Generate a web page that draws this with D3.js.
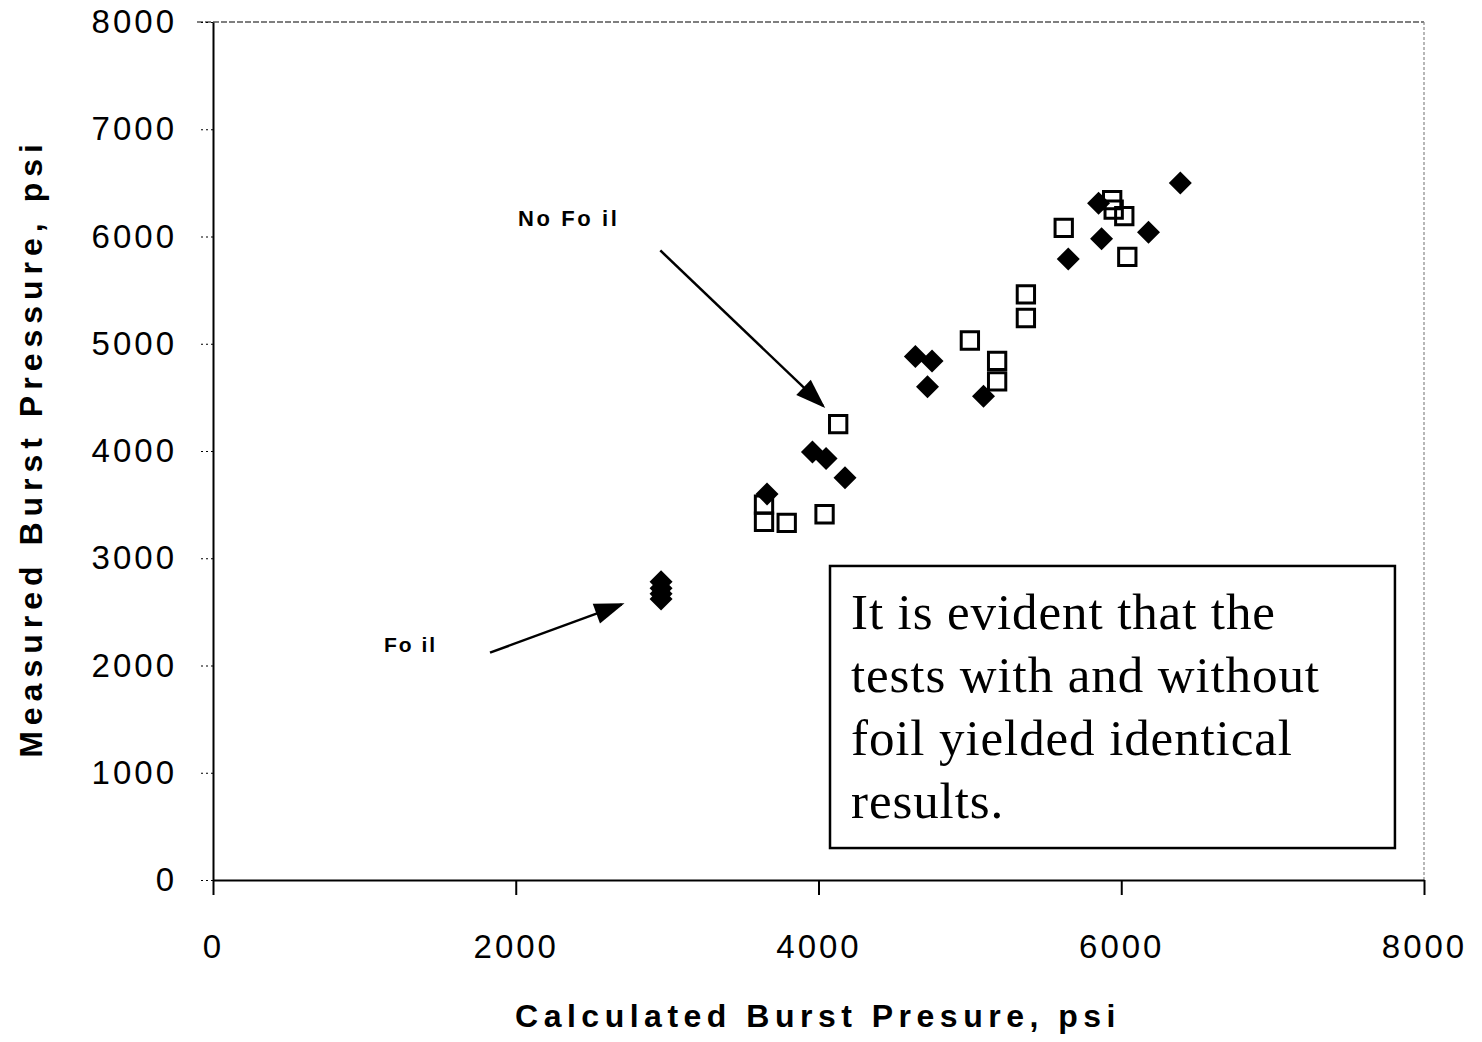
<!DOCTYPE html>
<html>
<head>
<meta charset="utf-8">
<script src="https://cdn.jsdelivr.net/npm/d3@7"></script>
<style>
  body { margin: 0; background: #fff; }
  svg { display: block; }
</style>
</head>
<body>
<svg></svg>
<script>
// data
let foilX = [2960, 2960, 2960, 2960, 3660, 3960, 4050, 4175, 4640, 4750, 4720, 5090, 5650, 5870, 5850, 6180, 6390];
let foilY = [2780, 2720, 2670, 2620, 3600, 3990, 3930, 3750, 4880, 4840, 4600, 4510, 5790, 5980, 6310, 6040, 6500];

let noFoilX = [4130, 3640, 3640, 3790, 4040, 5000, 5180, 5180, 5370, 5370, 5620, 5940, 5950, 6020, 6040];
let noFoilY = [4250, 3500, 3340, 3330, 3410, 5030, 4840, 4650, 5460, 5240, 6080, 6340, 6250, 6190, 5810];

let xTicks = [0, 2000, 4000, 6000, 8000];
let yTicks = [0, 1000, 2000, 3000, 4000, 5000, 6000, 7000, 8000];

let noteLines = ['It is evident that the', 'tests with and without', 'foil yielded identical', 'results.'];

let svgWidth = 1482, svgHeight = 1042;
let plotLeft = 213, plotRight = 1424, plotTop = 22, plotBottom = 880;

let svg = d3.select('svg')
    .attr('width', svgWidth)
    .attr('height', svgHeight)
    .style('font-family', 'Liberation Sans, Arial, sans-serif');

let x = d3.scaleLinear().domain([0, 8000]).range([plotLeft, plotRight]);
let y = d3.scaleLinear().domain([0, 8000]).range([plotBottom, plotTop]);

// frame: dotted top and right
svg.append('line')
    .attr('x1', plotLeft - 16).attr('x2', plotRight)
    .attr('y1', plotTop).attr('y2', plotTop)
    .attr('stroke', '#555').attr('stroke-width', 1.5)
    .attr('stroke-dasharray', '6,2');
svg.append('line')
    .attr('x1', plotRight).attr('x2', plotRight)
    .attr('y1', plotTop).attr('y2', plotBottom)
    .attr('stroke', '#888').attr('stroke-width', 1.2)
    .attr('stroke-dasharray', '3,2');

// x axis
let xAxis = svg.append('g')
    .attr('transform', 'translate(0,' + plotBottom + ')')
    .call(d3.axisBottom(x).tickValues(xTicks).tickFormat(d3.format('d'))
        .tickSize(15).tickPadding(40).tickSizeOuter(0));
xAxis.select('.domain').attr('stroke', '#000').attr('stroke-width', 2);
xAxis.selectAll('.tick line').attr('stroke-width', 2);
xAxis.selectAll('.tick text')
    .style('font-size', '33px')
    .style('letter-spacing', '3px')
    .attr('fill', '#000');

// y axis
let yAxis = svg.append('g')
    .attr('transform', 'translate(' + plotLeft + ',0)')
    .call(d3.axisLeft(y).tickValues(yTicks).tickFormat(d3.format('d'))
        .tickSize(14).tickPadding(22).tickSizeOuter(0));
yAxis.select('.domain').attr('stroke', '#000').attr('stroke-width', 2);
yAxis.selectAll('.tick line').attr('stroke-width', 1.2).attr('stroke-dasharray', '2,3');
yAxis.selectAll('.tick text')
    .style('font-size', '33px')
    .style('letter-spacing', '3px')
    .attr('fill', '#000');

// axis titles
svg.append('text')
    .attr('x', 818).attr('y', 1027)
    .attr('text-anchor', 'middle')
    .style('font-size', '32px').style('font-weight', 'bold')
    .style('letter-spacing', '5.5px')
    .text('Calculated Burst Presure, psi');

svg.append('text')
    .attr('transform', 'translate(42,448) rotate(-90)')
    .attr('text-anchor', 'middle')
    .style('font-size', '32px').style('font-weight', 'bold')
    .style('letter-spacing', '6px')
    .text('Measured Burst Pressure, psi');

// points
let diamond = 'M0,-11.5 L11.5,0 L0,11.5 L-11.5,0 Z';
let square = d3.symbol().type(d3.symbolSquare).size(300);

svg.selectAll('.nofoil')
    .data(noFoilX)
    .enter()
    .append('path')
    .attr('class', 'nofoil')
    .attr('d', square)
    .attr('fill', 'none')
    .attr('stroke', '#000')
    .attr('stroke-width', 3)
    .attr('transform', function(d, i) {
        return 'translate(' + x(d) + ',' + y(noFoilY[i]) + ')';
    });

svg.selectAll('.foil')
    .data(foilX)
    .enter()
    .append('path')
    .attr('class', 'foil')
    .attr('d', diamond)
    .attr('fill', '#000')
    .attr('transform', function(d, i) {
        return 'translate(' + x(d) + ',' + y(foilY[i]) + ')';
    });

// arrows
let defs = svg.append('defs');
defs.append('marker')
    .attr('id', 'head')
    .attr('viewBox', '0 0 10 10')
    .attr('refX', 9).attr('refY', 5)
    .attr('markerWidth', 36).attr('markerHeight', 30)
    .attr('markerUnits', 'userSpaceOnUse')
    .attr('orient', 'auto')
    .append('path')
    .attr('d', 'M0,1.5 L10,5 L0,8.5 Z')
    .attr('fill', '#000');

function arrow(x1, y1, x2, y2) {
    svg.append('line')
        .attr('x1', x(x1)).attr('y1', y(y1))
        .attr('x2', x(x2)).attr('y2', y(y2))
        .attr('stroke', '#000').attr('stroke-width', 2.5)
        .attr('marker-end', 'url(#head)');
}
arrow(2955, 5870, 4030, 4420);
arrow(1830, 2120, 2700, 2570);

svg.append('text')
    .attr('x', x(2015)).attr('y', y(6100))
    .style('font-size', '22px').style('font-weight', 'bold')
    .style('letter-spacing', '2.6px')
    .text('No Fo il');

svg.append('text')
    .attr('x', x(1130)).attr('y', y(2130))
    .style('font-size', '21px').style('font-weight', 'bold')
    .style('letter-spacing', '2px')
    .text('Fo il');

// note box
let bx = x(4076), by = y(2928);
svg.append('rect')
    .attr('x', bx).attr('y', by)
    .attr('width', x(7808) - bx).attr('height', y(298) - by)
    .attr('fill', '#fff')
    .attr('stroke', '#000').attr('stroke-width', 2.5);

svg.append('g').selectAll('text')
    .data(noteLines)
    .enter()
    .append('text')
    .attr('x', bx + 21)
    .attr('y', function(d, i) { return by + 63 + i * 63; })
    .style('font-family', 'Liberation Serif, Times New Roman, serif')
    .style('font-size', '51px')
    .style('letter-spacing', '0.9px')
    .text(d => d);
</script>
</body>
</html>
